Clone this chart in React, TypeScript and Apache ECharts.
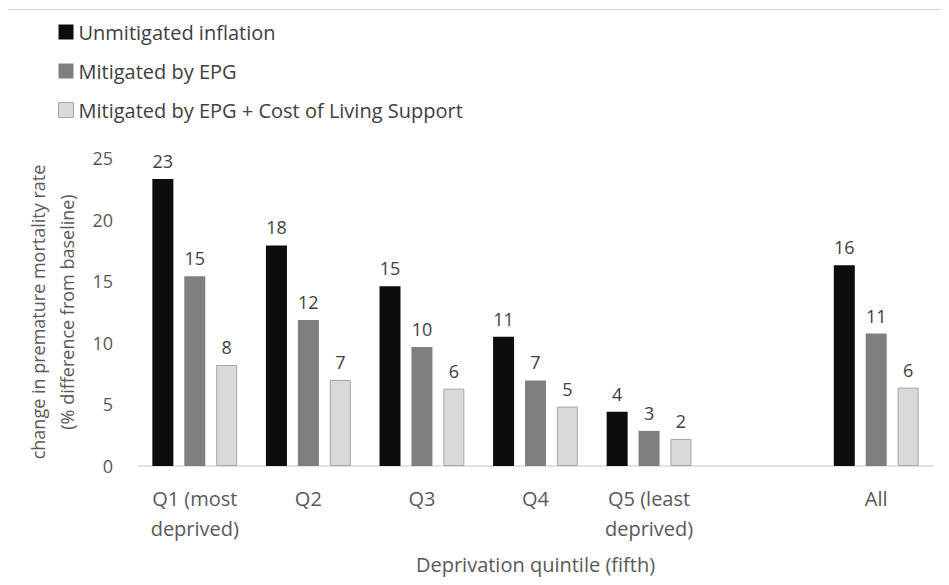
import React, { useEffect, useRef } from "react";
import * as echarts from "echarts";

const categories = ["Q1 (most\ndeprived)", "Q2", "Q3", "Q4", "Q5 (least\ndeprived)", "", "All"];
const seriesNames = [
  "Unmitigated inflation",
  "Mitigated by EPG",
  "Mitigated by EPG + Cost of Living Support",
];
const unmitigated = [23.3, 17.9, 14.6, 10.5, 4.4, null, 16.3];
const mitigatedEPG = [15.4, 11.85, 9.65, 6.95, 2.85, null, 10.75];
const mitigatedEPGCol = [8.2, 6.98, 6.28, 4.82, 2.2, null, 6.36];
const yTicks = { min: 0, max: 25, interval: 5 };

const FONT = "'Open Sans', 'Liberation Sans', sans-serif";

export default function App() {
  const ref = useRef<HTMLDivElement>(null);
  useEffect(() => {
    if (!ref.current) return;
    const chart = echarts.init(ref.current, null, { renderer: "svg" });
    const label = {
      show: true,
      position: "top" as const,
      distance: 9,
      color: "#404040",
      fontSize: 18,
      fontFamily: FONT,
      formatter: (p: any) => String(Math.round(p.value)),
    };
    const mk = (name: string, data: (number | null)[], color: string, border?: string) => ({
      name,
      type: "bar" as const,
      data: data.map((v) => (v === null ? "-" : v)),
      barWidth: 21,
      barGap: "52%",
      itemStyle: border
        ? { color, borderColor: border, borderWidth: 1 }
        : { color },
      label,
    });
    chart.setOption({
      animation: false,
      textStyle: { fontFamily: FONT },
      legend: {
        orient: "vertical",
        left: 50,
        top: 10,
        padding: 0,
        itemWidth: 15,
        itemHeight: 15,
        itemGap: 15,
        icon: "rect",
        textStyle: { fontSize: 20, color: "#404040", fontFamily: FONT, lineHeight: 24 },
        data: [
          { name: seriesNames[0], itemStyle: { color: "#0d0d0d" } },
          { name: seriesNames[1], itemStyle: { color: "#7f7f7f" } },
          { name: seriesNames[2], itemStyle: { color: "#d9d9d9", borderColor: "#a6a6a6", borderWidth: 1 } },
        ],
      },
      grid: { left: 130, right: 15, top: 148, bottom: 119, containLabel: false },
      xAxis: {
        type: "category",
        data: categories,
        axisLine: { lineStyle: { color: "#d9d9d9", width: 1.5 } },
        axisTick: { show: false },
        axisLabel: { color: "#595959", fontSize: 20, fontFamily: FONT, margin: 17, lineHeight: 30, interval: 0 },
        name: "Deprivation quintile (fifth)",
        nameLocation: "middle",
        nameGap: 88,
        nameTextStyle: { color: "#595959", fontSize: 20, fontFamily: FONT },
      },
      yAxis: {
        type: "value",
        min: yTicks.min,
        max: yTicks.max,
        interval: yTicks.interval,
        axisLine: { show: false },
        axisTick: { show: false },
        splitLine: { show: false },
        axisLabel: { color: "#595959", fontSize: 18, fontFamily: FONT, margin: 25 },
        name: "change in premature mortality rate\n(% difference from baseline)",
        nameLocation: "middle",
        nameGap: 54,
        nameTextStyle: { color: "#595959", fontSize: 18, fontFamily: FONT, lineHeight: 29 },
      },
      series: [
        mk(seriesNames[0], unmitigated, "#0d0d0d"),
        mk(seriesNames[1], mitigatedEPG, "#7f7f7f"),
        mk(seriesNames[2], mitigatedEPGCol, "#d9d9d9", "#a6a6a6"),
      ],
    });
    return () => chart.dispose();
  }, []);
  return (
    <div
      style={{
        width: 941,
        height: 576,
        boxSizing: "border-box",
        borderTop: "1px solid #d9d9d9",
        borderLeft: "1px solid #d9d9d9",
        marginLeft: -1,
        marginTop: 1,
        background: "#fff",
      }}
    >
      <div ref={ref} style={{ width: 940, height: 575 }} />
    </div>
  );
}
